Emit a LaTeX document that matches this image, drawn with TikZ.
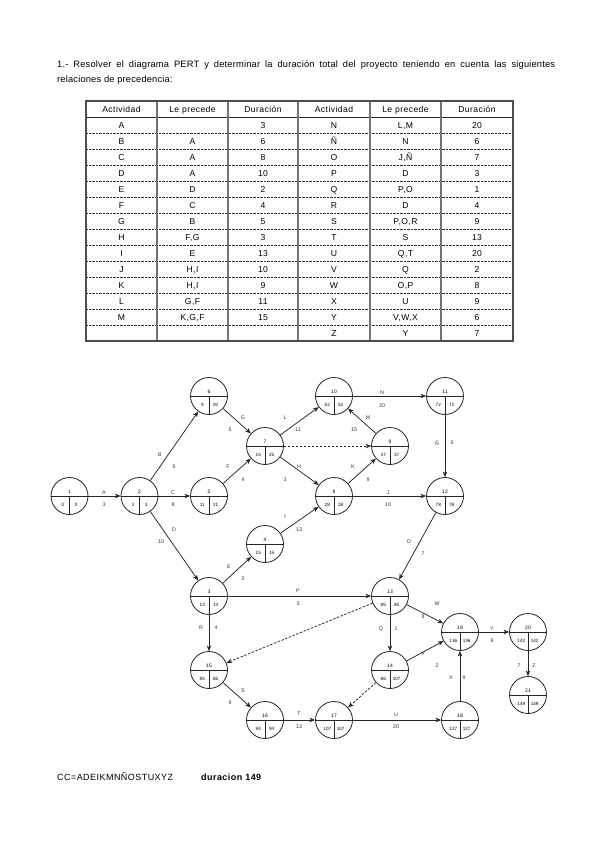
\documentclass[tikz,border=0pt]{standalone}
\usepackage{fontspec}
\setmainfont{Liberation Sans}
\newfontfamily\tfont[LetterSpace=5]{Liberation Sans}
\newfontfamily\hfont[LetterSpace=2]{Liberation Sans}
\usetikzlibrary{arrows.meta}
\newcommand\evnode[6]{%
  \node[ev] (#1) at (#2,#3) {};
  \draw[evline] (#1.west) -- (#1.east) (#1.center) -- (#1.south);
  \node[evnum] (#1-n) at (#2,#3-4) {#4};
  \node[evval] (#1-e) at (#2-6.7,#3+9) {#5};
  \node[evval] (#1-l) at (#2+6.7,#3+9) {#6};
}
\begin{document}
\begin{tikzpicture}[x=1pt,y=-1pt,
  ev/.style={circle, draw=black!85, line width=0.8pt, minimum size=37pt, inner sep=0pt},
  evline/.style={black!85, line width=0.8pt},
  evnum/.style={font=\fontsize{5}{5}\selectfont, inner sep=0pt},
  evval/.style={font=\fontsize{4.6}{5}\selectfont, inner sep=0pt},
  lbl/.style={font=\fontsize{5.3}{6}\selectfont, inner sep=0pt, text=black!80},
  arr/.style={-{Stealth[length=5.5pt,width=4.5pt,inset=1.5pt]}, line width=0.75pt, black!85},
  darr/.style={arr, dash pattern=on 2.5pt off 1.5pt},
  cell/.style={font=\tfont\fontsize{8.6}{10}\selectfont, inner sep=0pt, anchor=base},
  rowsep/.style={line width=0.5pt, dash pattern=on 0.8pt off 0.6pt, black!80},
  vline/.style={line width=1.1pt, black!55},
]
\useasboundingbox (0,0) rectangle (599,848);
\fill[white] (0,0) rectangle (599,848);

% heading
\node[anchor=base west, inner sep=0pt, font=\hfont\fontsize{9.3}{11}\selectfont] (h1) at (57,68)
  {\makebox[498pt][s]{1.- Resolver el diagrama PERT y determinar la duración total del proyecto teniendo en cuenta las siguientes}};
\node[anchor=base west, inner sep=0pt, font=\hfont\fontsize{9.3}{11}\selectfont] (h2) at (57,83)
  {relaciones de precedencia:};

% table
\foreach \r in {2,...,14} {
  \draw[rowsep] (86,101+16*\r) -- (513,101+16*\r);
}
\draw[line width=0.6pt, black!85] (86,117) -- (513,117);
\foreach \c in {157,228,298,370,441} {
  \draw[vline] (\c,101) -- (\c,341);
}
\draw[line width=1.4pt, black!70] (86,101) rectangle (513,341);
\foreach \t/\cx [count=\i] in {Actividad/121.5,Le precede/192.5,Duración/263,Actividad/334,Le precede/405.5,Duración/477} {
  \node[cell] (hd\i) at (\cx,112.5) {\t};
}
\foreach \a/\b/\c/\d/\e/\f [count=\r] in {
  A//3/N/{L,M}/20,
  B/A/6/Ñ/N/6,
  C/A/8/O/{J,Ñ}/7,
  D/A/10/P/D/3,
  E/D/2/Q/{P,O}/1,
  F/C/4/R/D/4,
  G/B/5/S/{P,O,R}/9,
  H/{F,G}/3/T/S/13,
  I/E/13/U/{Q,T}/20,
  J/{H,I}/10/V/Q/2,
  K/{H,I}/9/W/{O,P}/8,
  L/{G,F}/11/X/U/9,
  M/{K,G,F}/15/Y/{V,W,X}/6,
  ///Z/Y/7} {
  \pgfmathsetmacro\yy{112.5+16*\r}
  \node[cell] (c\r-1) at (121.5,\yy) {\a};
  \node[cell] (c\r-2) at (192.5,\yy) {\b};
  \node[cell] (c\r-3) at (263,\yy) {\c};
  \node[cell] (c\r-4) at (334,\yy) {\d};
  \node[cell] (c\r-5) at (405.5,\yy) {\e};
  \node[cell] (c\r-6) at (477,\yy) {\f};
}

% events
\evnode{n1}{69.5}{496}{1}{0}{0}
\evnode{n2}{139.5}{496}{2}{3}{3}
\evnode{n6}{209}{396}{6}{9}{20}
\evnode{n5}{209}{496}{5}{11}{21}
\evnode{n3}{209}{596}{3}{13}{13}
\evnode{n15}{209}{670}{15}{85}{85}
\evnode{n7}{265}{446}{7}{15}{25}
\evnode{n4}{265}{544}{4}{15}{15}
\evnode{n16}{265}{720}{16}{94}{94}
\evnode{n10}{334}{396}{10}{52}{52}
\evnode{n8}{334}{496}{8}{28}{28}
\evnode{n17}{334}{720}{17}{107}{107}
\evnode{n9}{390}{446}{9}{37}{37}
\evnode{n13}{390}{596}{13}{85}{85}
\evnode{n14}{390}{670}{14}{86}{107}
\evnode{n11}{445}{396}{11}{72}{72}
\evnode{n12}{445}{496}{12}{78}{78}
\evnode{n18}{460}{720}{18}{127}{127}
\evnode{n19}{460}{632}{19}{136}{136}
\evnode{n20}{528}{632}{20}{142}{142}
\evnode{n21}{528}{695}{21}{149}{149}

% activities
\draw[arr] (n1) -- (n2) node[lbl] at (104,493) {A} node[lbl] at (104,505) {3};
\draw[arr] (n2) -- (n6) node[lbl] at (160,455) {B} node[lbl] at (174,467) {6};
\draw[arr] (n2) -- (n5) node[lbl] at (173,493) {C} node[lbl] at (173,505) {8};
\draw[arr] (n2) -- (n3) node[lbl] at (174,530) {D} node[lbl] at (161,542) {10};
\draw[arr] (n3) -- (n4) node[lbl] at (229,567) {E} node[lbl] at (243,579) {2};
\draw[arr] (n5) -- (n7) node[lbl] at (228,467) {F} node[lbl] at (243,480) {4};
\draw[arr] (n6) -- (n7) node[lbl] at (243,418) {G} node[lbl] at (230,430) {5};
\draw[arr] (n7) -- (n8) node[lbl] at (299,467) {H} node[lbl] at (285,480) {3};
\draw[arr] (n4) -- (n8) node[lbl] at (285,517) {I} node[lbl] at (299,530) {13};
\draw[arr] (n8) -- (n12) node[lbl] at (388,493) {J} node[lbl] at (388,505) {10};
\draw[arr] (n8) -- (n9) node[lbl] at (353,467) {K} node[lbl] at (368,480) {9};
\draw[arr] (n7) -- (n10) node[lbl] at (285,418) {L} node[lbl] at (298,430) {11};
\draw[arr] (n9) -- (n10) node[lbl] at (368,418) {M} node[lbl] at (354,430) {15};
\draw[darr] (n7) -- (n9);
\draw[arr] (n10) -- (n11) node[lbl] at (382,393) {N} node[lbl] at (382,406) {20};
\draw[arr] (n11) -- (n12) node[lbl] at (437,443) {Ñ} node[lbl] at (452,443) {6};
\draw[arr] (n12) -- (n13) node[lbl] at (409,542) {O} node[lbl] at (423,554) {7};
\draw[arr] (n3) -- (n13) node[lbl] at (298,591) {P} node[lbl] at (298,604) {3};
\draw[arr] (n13) -- (n14) node[lbl] at (381,629) {Q} node[lbl] at (396,629) {1};
\draw[arr] (n3) -- (n15) node[lbl] at (201,628) {R} node[lbl] at (216,628) {4};
\draw[darr] (n13) -- (n15);
\draw[arr] (n15) -- (n16) node[lbl] at (243,691) {S} node[lbl] at (230,703) {9};
\draw[arr] (n16) -- (n17) node[lbl] at (299,714) {T} node[lbl] at (299,727) {13};
\draw[darr] (n14) -- (n17);
\draw[arr] (n17) -- (n18) node[lbl] at (396,715) {U} node[lbl] at (396,727) {20};
\draw[arr] (n14) -- (n19) node[lbl] at (423,654) {V} node[lbl] at (437,666) {2};
\draw[arr] (n13) -- (n19) node[lbl] at (437,604) {W} node[lbl] at (423,617) {8};
\draw[arr] (n18) -- (n19) node[lbl] at (451,678) {X} node[lbl] at (464,678) {9};
\draw[arr] (n19) -- (n20) node[lbl] at (492,629) {Y} node[lbl] at (492,641) {6};
\draw[arr] (n20) -- (n21) node[lbl] at (519,666) {7} node[lbl] at (534,666) {Z};

% footer
\node[anchor=base west, inner sep=0pt, font=\tfont\fontsize{9}{11}\selectfont] (f1) at (57,780) {CC=ADEIKMNÑOSTUXYZ};
\node[anchor=base west, inner sep=0pt, font=\tfont\bfseries\fontsize{9}{11}\selectfont] (f2) at (201,780) {duracion 149};
\end{tikzpicture}
\end{document}
